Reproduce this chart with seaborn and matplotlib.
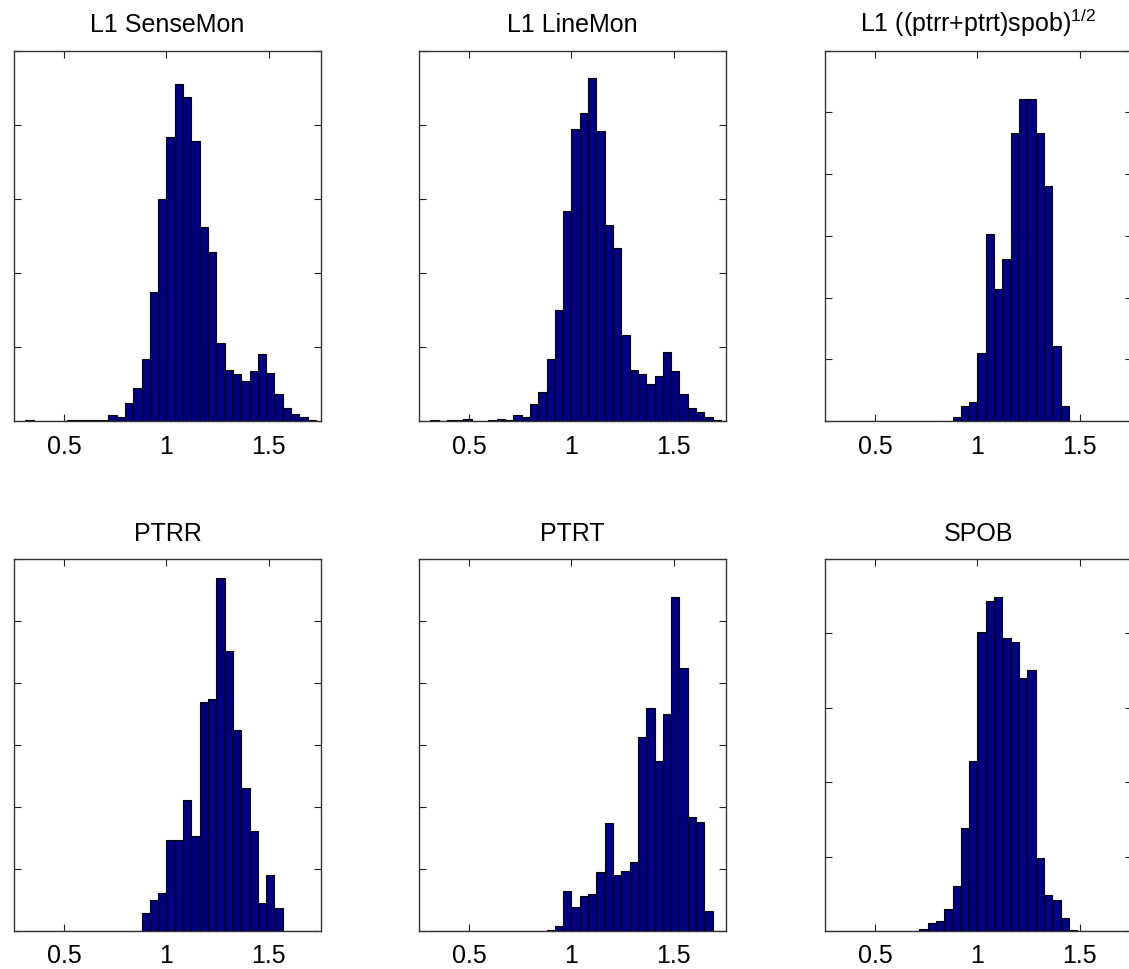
import numpy as np
import pandas as pd
import matplotlib
matplotlib.use("Agg")
import matplotlib.pyplot as plt
import seaborn as sns

# ---- data (counts per shared bin, bins k = 0..34) ----
bin_width = 0.0406
bin_index = np.arange(-17, 19)  # edge offsets relative to 1.0

titles = ["L1 SenseMon", "L1 LineMon", r"L1 ((ptrr+ptrt)spob)$^{\mathrm{1/2}}$",
          "PTRR", "PTRT", "SPOB"]

sensemon = [2, 0, 0, 0, 0, 1, 1, 1, 1, 1, 8, 6, 24, 44, 83, 174, 300, 383, 455, 437,
            378, 262, 228, 105, 69, 63, 54, 68, 91, 65, 36, 17, 10, 5, 2]
linemon = [2, 0, 2, 2, 3, 0, 0, 1, 3, 2, 8, 5, 23, 39, 83, 150, 283, 394, 415, 463,
           392, 265, 234, 116, 69, 63, 50, 61, 93, 68, 37, 18, 12, 5, 2]
combo = [0] * 14 + [6, 25, 31, 110, 303, 214, 262, 467, 521, 521, 467, 381, 121, 25] + [0] * 7
ptrr = [0] * 14 + [29, 50, 61, 147, 147, 211, 153, 369, 375, 569, 452, 325, 231, 161,
                   45, 91, 37] + [0] * 4
ptrt = [0] * 14 + [2, 8, 64, 39, 56, 60, 95, 174, 91, 97, 112, 313, 359, 274, 350, 539,
                   425, 184, 176, 33] + [0]
spob = [0] * 10 + [3, 11, 14, 29, 61, 139, 228, 402, 443, 449, 394, 389, 340, 351, 98,
                   49, 41, 18, 2] + [0] * 6

series = [sensemon, linemon, combo, ptrr, ptrt, spob]
ymax = [500, 500, 600, 600, 600, 500]
xtick_vals = [0.5, 1.0, 1.5]
xtick_labels = ["0.5", "1", "1.5"]

# ---- style ----
sns.set_style("white")
plt.rcParams["font.family"] = ["Liberation Sans", "DejaVu Sans"]
plt.rcParams["mathtext.fontset"] = "custom"
plt.rcParams["mathtext.rm"] = "Liberation Sans"
plt.rcParams["mathtext.it"] = "Liberation Sans:italic"
plt.rcParams["text.color"] = "black"
plt.rcParams["axes.titlecolor"] = "black"

edges = 1.0 + bin_width * bin_index
centers = edges[:-1] + bin_width / 2

fig = plt.figure(figsize=(11.29, 9.70), dpi=100)
W, H = 1129, 970
lefts = [14, 419, 825]
tops = [51.5, 560]
bottoms = [422, 932]
aw = 307

bar_color = "#000084"
for i, (title, counts) in enumerate(zip(titles, series)):
    r, c = divmod(i, 3)
    ax = fig.add_axes([lefts[c] / W, (H - bottoms[r]) / H, aw / W,
                       (bottoms[r] - tops[r]) / H])
    df = pd.DataFrame({"value": centers, "count": np.asarray(counts, dtype=float)})
    sns.histplot(data=df, x="value", weights="count", bins=edges.tolist(), ax=ax,
                 color=bar_color, edgecolor="black", linewidth=0.8, alpha=1.0)
    ax.set_xlim(0.255, 1.755)
    ax.set_ylim(0, ymax[i])
    ax.set_xticks(xtick_vals)
    ax.set_xticklabels(xtick_labels)
    ax.set_yticks(np.arange(0, ymax[i] + 1, 100))
    ax.set_yticklabels([])
    ax.set_xlabel("")
    ax.set_ylabel("")
    ax.tick_params(direction="in", length=5, width=0.8, top=True, right=True,
                   left=True, bottom=True, labelsize=18, pad=9, colors="#222222",
                   labelcolor="black")
    for s in ax.spines.values():
        s.set_visible(True)
        s.set_color("#333333")
        s.set_linewidth(1.0)
    ax.set_title(title, fontsize=18, pad=14, color="black")

fig.savefig("out.png", dpi=100, facecolor="white")
